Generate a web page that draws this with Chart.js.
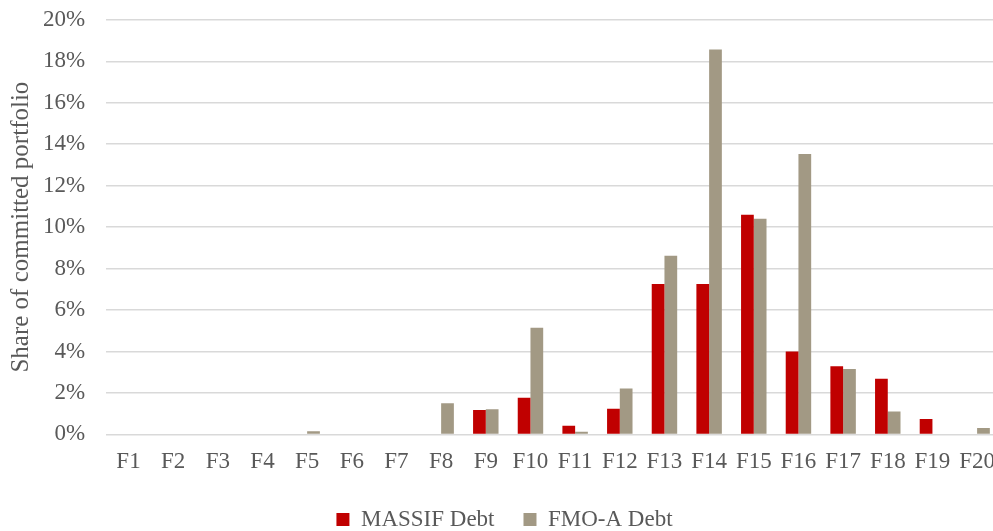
<!DOCTYPE html>
<html>
<head>
<meta charset="utf-8">
<script src="https://cdn.jsdelivr.net/npm/chart.js@4/dist/chart.umd.min.js"></script>
<style>
  html, body { margin: 0; padding: 0; background: #fff; overflow: hidden; }
  #wrap { width: 1009px; height: 546px; margin-top: -15px; }
</style>
</head>
<body>
<div id="wrap"><canvas id="c" width="1009" height="546"></canvas></div>
<script>
const categories = ["F1","F2","F3","F4","F5","F6","F7","F8","F9","F10","F11","F12","F13","F14","F15","F16","F17","F18","F19","F20"];
const massifDebt = [0, 0, 0, 0, 0, 0, 0, 0, 1.18, 1.77, 0.42, 1.24, 7.25, 7.25, 10.6, 4.0, 3.29, 2.69, 0.74, 0];
const fmoDebt    = [0, 0, 0, 0, 0.15, 0, 0, 1.50, 1.21, 5.15, 0.13, 2.22, 8.62, 18.57, 10.4, 13.53, 3.16, 1.10, 0, 0.31];
const yTickStep = 2;
const yMax = 20;

const textColor = '#595959';
const fontFamily = '"Liberation Serif", "Times New Roman", serif';

new Chart(document.getElementById('c'), {
  type: 'bar',
  data: {
    labels: categories,
    datasets: [
      { label: 'MASSIF Debt', data: massifDebt, backgroundColor: '#C00000', borderWidth: 0 },
      { label: 'FMO-A Debt', data: fmoDebt, backgroundColor: '#A29984', borderWidth: 0 }
    ]
  },
  options: {
    responsive: false,
    animation: false,
    layout: { padding: { top: 0, right: 0, bottom: -10, left: 0 } },
    datasets: { bar: { barPercentage: 1, categoryPercentage: 0.57 } },
    plugins: {
      tooltip: { enabled: false },
      legend: {
        position: 'bottom',
        labels: {
          color: textColor,
          font: { family: fontFamily, size: 23 },
          boxWidth: 13, boxHeight: 13,
          padding: 29
        }
      }
    },
    scales: {
      x: {
        grid: { display: false, drawTicks: false },
        border: { display: false },
        afterFit: s => { s.height -= 11; },
        ticks: {
          color: textColor, font: { family: fontFamily, size: 23 },
          autoSkip: false, maxRotation: 0, minRotation: 0, padding: 14
        }
      },
      y: {
        min: 0, max: yMax,
        grid: { color: '#D9D9D9', lineWidth: 1.5, drawTicks: false },
        border: { display: false },
        afterFit: s => { s.width -= 18; },
        ticks: {
          stepSize: yTickStep,
          color: textColor, font: { family: fontFamily, size: 23 },
          padding: 21,
          callback: v => v + '%'
        },
        title: {
          display: true, text: 'Share of committed portfolio',
          color: textColor, font: { family: fontFamily, size: 25 },
          padding: { top: 6, bottom: 4 }
        }
      }
    }
  }
});
</script>
</body>
</html>
